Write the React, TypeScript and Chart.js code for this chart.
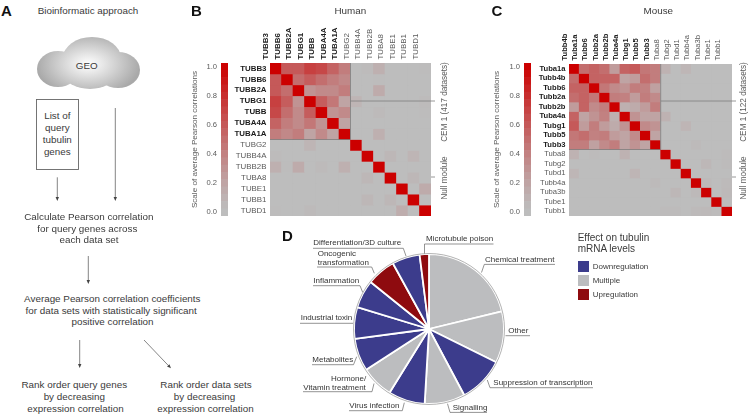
import React, { useEffect, useRef } from "react";
import { Chart, registerables } from "chart.js";

Chart.register(...registerables);

const FONT = '"Liberation Sans", Arial, sans-serif';
const INK = "#3a3a3a";

const humanCols = ["TUBB3", "TUBB6", "TUBB2A", "TUBG1", "TUBB", "TUBA4A", "TUBA1A", "TUBG2", "TUBB4A", "TUBB2B", "TUBA8", "TUBE1", "TUBB1", "TUBD1"];
const humanRows = humanCols;
const humanMatrix = [
  [1, 0.6, 0.6, 0.72, 0.68, 0.55, 0.42, 0, 0.03, 0.12, 0, 0, 0, 0.02],
  [0.6, 1, 0.5, 0.58, 0.5, 0.42, 0.36, 0, 0, 0.02, 0, 0, 0, 0],
  [0.6, 0.5, 1, 0.3, 0.35, 0.35, 0.42, 0, 0, 0.15, 0, 0, 0, 0],
  [0.72, 0.58, 0.3, 1, 0.58, 0.45, 0.2, 0.08, 0, 0, 0, 0, 0, 0.03],
  [0.68, 0.5, 0.35, 0.58, 1, 0.3, 0.35, 0, 0, 0.04, 0, 0, 0, 0.01],
  [0.55, 0.42, 0.35, 0.45, 0.3, 1, 0.2, 0, 0, 0, 0, 0, 0, 0],
  [0.42, 0.36, 0.42, 0.2, 0.35, 0.2, 1, 0, 0, 0.12, 0, 0, 0, 0],
  [0, 0, 0, 0.08, 0, 0, 0, 1, 0, 0, 0, 0, 0, 0],
  [0.03, 0, 0, 0, 0, 0, 0, 0, 1, 0, 0.06, 0, 0.08, 0],
  [0.12, 0.02, 0.15, 0, 0.04, 0, 0.12, 0, 0, 1, 0, 0, 0, 0],
  [0, 0, 0, 0, 0, 0, 0, 0, 0.06, 0, 1, 0, 0.06, 0],
  [0, 0, 0, 0, 0, 0, 0, 0, 0, 0, 0, 1, 0, 0.15],
  [0, 0, 0, 0, 0, 0, 0, 0, 0.06, 0, 0.06, 0, 1, 0],
  [0.02, 0, 0, 0.04, 0, 0, 0, 0, 0, 0, 0, 0.14, 0, 1],
];

const mouseCols = ["Tubb4b", "Tuba1a", "Tubb6", "Tubb2a", "Tubb2b", "Tuba4a", "Tubg1", "Tubb5", "Tubb3", "Tuba8", "Tubg2", "Tubd1", "Tubb4a", "Tuba3b", "Tube1", "Tubb1"];
const mouseRows = ["Tuba1a", "Tubb4b", "Tubb6", "Tubb2a", "Tubb2b", "Tuba4a", "Tubg1", "Tubb5", "Tubb3", "Tuba8", "Tubg2", "Tubd1", "Tubb4a", "Tuba3b", "Tube1", "Tubb1"];
const mouseMatrix = [
  [1, 0.5, 0.55, 0.5, 0.25, 0.55, 0.6, 0.45, 0.42, 0.1, 0, 0.07, 0, 0, 0, 0],
  [0.5, 1, 0.55, 0.55, 0.55, 0.2, 0.25, 0.5, 0.42, 0, 0, 0, 0, 0, 0, 0],
  [0.55, 0.55, 1, 0.45, 0.35, 0.3, 0.42, 0.4, 0.22, 0, 0, 0, 0, 0, 0, 0],
  [0.5, 0.55, 0.45, 1, 0.42, 0.4, 0.25, 0.42, 0.35, 0, 0, 0, 0, 0, 0, 0],
  [0.25, 0.55, 0.35, 0.42, 1, 0.12, 0.15, 0.25, 0.42, 0, 0, 0, 0, 0, 0, 0],
  [0.55, 0.2, 0.3, 0.4, 0.12, 1, 0.3, 0.2, 0.2, 0.1, 0, 0, 0, 0, 0, 0],
  [0.6, 0.25, 0.42, 0.25, 0.15, 0.3, 1, 0.35, 0.3, 0, 0, 0.08, 0, 0, 0, 0],
  [0.45, 0.5, 0.4, 0.42, 0.25, 0.2, 0.35, 1, 0.2, 0, 0, 0, 0, 0, 0, 0],
  [0.42, 0.42, 0.22, 0.35, 0.42, 0.2, 0.3, 0.2, 1, 0, 0, 0, 0.04, 0, 0, 0],
  [0.1, 0, 0.03, 0, 0, 0.1, 0, 0, 0, 1, 0, 0, 0, 0, 0, 0.03],
  [0, 0, 0, 0, 0, 0, 0, 0, 0, 0, 1, 0, 0, 0.06, 0, 0.03],
  [0.07, 0, 0, 0, 0, 0, 0.08, 0, 0, 0, 0, 1, 0, 0, 0, 0],
  [0, 0, 0, 0, 0, 0, 0, 0, 0.04, 0, 0, 0, 1, 0.05, 0, 0.04],
  [0, 0, 0, 0, 0, 0, 0, 0, 0, 0, 0.06, 0, 0.05, 1, 0, 0.05],
  [0, 0, 0, 0, 0, 0, 0, 0, 0, 0, 0, 0, 0, 0, 1, 0.03],
  [0, 0, 0, 0, 0, 0, 0, 0, 0, 0.03, 0.03, 0, 0.04, 0.05, 0.03, 1],
];

const scaleSteps = [0, 0.05, 0.1, 0.15, 0.2, 0.25, 0.3, 0.35, 0.4, 0.45, 0.5, 0.55, 0.6, 0.65, 0.7, 0.75, 0.8, 0.85, 0.9, 0.95, 1];
const scaleTicks = [0, 0.2, 0.4, 0.6, 0.8, 1];

const pieNames = ["Chemical treatment", "Other", "Suppression of transcription", "Signalling", "Virus infection", "Hormone/Vitamin treatment", "Metabolites", "Industrial toxin", "Inflammation", "Oncogenic transformation", "Differentiation/3D culture", "Microtubule poison"];
const pieValues = [21.2, 11.1, 9.9, 8.7, 7.9, 7, 7.05, 6.8, 6.1, 6.2, 6, 2];
const pieEffects = ["Multiple", "Multiple", "Downregulation", "Multiple", "Downregulation", "Multiple", "Downregulation", "Downregulation", "Downregulation", "Upregulation", "Downregulation", "Upregulation"];
const effectNames = ["Downregulation", "Multiple", "Upregulation"];
const effectColors: Record<string, string> = { Downregulation: "#3c3c8c", Multiple: "#bcbdbf", Upregulation: "#8e0b0f" };

// page-pixel layout of the pie's captions: text lines (x = left edge, y = middle), then the leader polyline
const pieCaptions = [
  { t: [["Chemical treatment", 485, 260]], l: [[555, 264.4], [484.3, 264.4], [481.5, 272.5]] },
  { t: [["Other", 508.3, 331]], l: [[530, 335.7], [505.5, 335.7]] },
  { t: [["Suppression of transcription", 493.3, 383]], l: [[593, 387.7], [490, 387.7], [487.3, 380]] },
  { t: [["Signalling", 452.7, 407.7]], l: [[487, 412.4], [450, 412.4], [447.5, 403.7]] },
  { t: [["Virus infection", 349.3, 405.7]], l: [[349, 410.7], [402.3, 410.7], [404.3, 402.7]] },
  { t: [["Hormone/", 331, 378.3], ["Vitamin treatment", 303.3, 387.3]], l: [[303, 391.7], [372, 391.7], [374, 383.5]] },
  { t: [["Metabolites", 312.3, 359.7]], l: [[312, 364.7], [353.5, 364.7], [356.7, 356.7]] },
  { t: [["Industrial toxin", 300.7, 318]], l: [[300, 323.3], [353, 323.3]] },
  { t: [["Inflammation", 313.3, 280.3]], l: [[313, 285.7], [360, 285.7], [362.7, 292.3]] },
  { t: [["Oncogenic", 317.7, 253.3], ["transformation", 317.7, 262.3]], l: [[317, 267], [371.7, 267], [374.3, 273.3]] },
  { t: [["Differentiation/3D culture", 313.3, 243]], l: [[313, 248.3], [403.3, 248.3], [406, 256]] },
  { t: [["Microtubule poison", 426, 239]], l: [[493.5, 244], [424.5, 244], [424.5, 253.5]] },
];

function cellColor(v: number) {
  const a = [189, 189, 189];
  const b = [204, 0, 0];
  const t = Math.pow(v, 1.25);
  const c = a.map((x, i) => Math.round(x + (b[i] - x) * t));
  return `rgb(${c[0]},${c[1]},${c[2]})`;
}

const noScalePadding = (s: any) => {
  s.paddingTop = 0; s.paddingBottom = 0; s.paddingLeft = 0; s.paddingRight = 0;
};

type HeatProps = {
  cols: string[]; rows: string[]; matrix: number[][]; boldCount: number;
  x0: number; y0: number; x1: number; y1: number;
  fs: number; cemY: number; nullY: number; moduleX: number; cemText: string; cemMidY: number; nullMidY: number;
};

function Heatmap(p: HeatProps) {
  const ref = useRef<HTMLCanvasElement>(null);
  const leftGutter = 62, topGutter = 50, rightGutter = 20;
  useEffect(() => {
    const n = p.rows.length;
    const rowIdx = (c: any) => Math.floor(c.tick ? c.tick.value : 0);
    const colIdx = (c: any) => (typeof c.index === "number" ? c.index : 0);
    const chart = new Chart(ref.current!, {
      type: "bar",
      data: {
        labels: p.cols,
        datasets: p.matrix.map((row, i) => ({
          label: p.rows[i],
          data: row.map(() => 1),
          backgroundColor: row.map(cellColor),
          borderWidth: 0,
          barPercentage: 1,
          categoryPercentage: 1,
        })),
      },
      options: {
        responsive: false,
        animation: false,
        layout: { padding: { left: 0, top: 0, right: rightGutter, bottom: 0 } },
        plugins: { legend: { display: false }, tooltip: { enabled: false } },
        scales: {
          x: {
            position: "top",
            stacked: true,
            grid: { display: false, drawTicks: false },
            border: { display: false },
            afterFit: (s: any) => { s.height = topGutter; noScalePadding(s); },
            ticks: {
              autoSkip: false, minRotation: 90, maxRotation: 90, padding: 3.5,
              font: (c: any) => ({ family: FONT, size: p.fs, weight: colIdx(c) < p.boldCount ? "bold" : "normal" }),
              color: (c: any) => (colIdx(c) < p.boldCount ? "#1c1c1c" : "#5a5a5a"),
            },
          },
          y: {
            stacked: true,
            reverse: true,
            min: 0,
            max: n,
            grid: { display: false, drawTicks: false },
            border: { display: false },
            afterFit: (s: any) => { s.width = leftGutter; noScalePadding(s); },
            afterBuildTicks: (s: any) => { s.ticks = p.rows.map((_, i) => ({ value: i + 0.5 })); },
            ticks: {
              autoSkip: false, padding: 3.5,
              callback: (v: any) => p.rows[Math.floor(Number(v))],
              font: (c: any) => ({ family: FONT, size: p.fs, weight: rowIdx(c) < p.boldCount ? "bold" : "normal" }),
              color: (c: any) => (rowIdx(c) < p.boldCount ? "#1c1c1c" : "#5a5a5a"),
            },
          },
        },
      },
      plugins: [
        {
          id: "cellBackdrop",
          beforeDatasetsDraw(c: any) {
            const a = c.chartArea;
            c.ctx.fillStyle = cellColor(0);
            c.ctx.fillRect(a.left, a.top, a.width, a.height);
          },
        },
        {
          id: "modules",
          afterDraw(c: any) {
            const { ctx, scales, chartArea: a } = c;
            const bx = scales.x.getPixelForValue(p.boldCount - 0.5);
            const by = scales.y.getPixelForValue(p.boldCount);
            ctx.save();
            ctx.strokeStyle = "#7d7d7d";
            ctx.lineWidth = 0.8;
            ctx.beginPath();
            ctx.moveTo(a.left, by); ctx.lineTo(bx, by);
            ctx.moveTo(bx, a.top); ctx.lineTo(bx, by);
            ctx.moveTo(bx, p.cemY - p.y0 + topGutter); ctx.lineTo(a.right + 4, p.cemY - p.y0 + topGutter);
            ctx.moveTo(a.right, p.nullY - p.y0 + topGutter); ctx.lineTo(a.right + 4, p.nullY - p.y0 + topGutter);
            ctx.stroke();
            ctx.restore();
            ctx.save();
            ctx.fillStyle = "#5a5a5a";
            ctx.font = `8.2px ${FONT}`;
            ctx.textAlign = "center";
            ctx.textBaseline = "middle";
            const mx = p.moduleX - (p.x0 - leftGutter);
            [[p.cemText, p.cemMidY], ["Null module", p.nullMidY]].forEach(([t, y]) => {
              ctx.save();
              ctx.translate(mx, (y as number) - p.y0 + topGutter);
              ctx.rotate(-Math.PI / 2);
              ctx.fillText(t as string, 0, 0);
              ctx.restore();
            });
            ctx.restore();
          },
        },
      ],
    } as any);
    return () => chart.destroy();
  }, []);
  const w = p.x1 - p.x0 + leftGutter + rightGutter;
  const h = p.y1 - p.y0 + topGutter;
  return (
    <canvas
      ref={ref}
      width={w}
      height={h}
      style={{ position: "absolute", left: p.x0 - leftGutter, top: p.y0 - topGutter, width: w, height: h }}
    />
  );
}

function ColorBar({ left, top, width, height }: { left: number; top: number; width: number; height: number }) {
  const ref = useRef<HTMLCanvasElement>(null);
  const gutter = width - 7;
  useEffect(() => {
    const chart = new Chart(ref.current!, {
      type: "bar",
      data: {
        labels: ["scale"],
        datasets: scaleSteps.map((v) => ({
          label: String(v),
          data: [[v - 0.025, v + 0.025]],
          backgroundColor: cellColor(v),
          borderWidth: 0,
          grouped: false,
          barPercentage: 1,
          categoryPercentage: 1,
        })),
      },
      options: {
        responsive: false,
        animation: false,
        plugins: { legend: { display: false }, tooltip: { enabled: false } },
        scales: {
          x: { display: false },
          y: {
            min: -0.025,
            max: 1.025,
            grid: { display: false, drawTicks: false },
            border: { display: false },
            afterFit: (s: any) => { s.width = gutter; noScalePadding(s); },
            afterBuildTicks: (s: any) => { s.ticks = scaleTicks.map((value) => ({ value })); },
            title: {
              display: true,
              text: "Scale of average Pearson correlations",
              color: "#5a5a5a",
              font: { family: FONT, size: 8.1 },
              padding: 0,
            },
            ticks: {
              padding: 4,
              color: "#5a5a5a",
              font: { family: FONT, size: 7.6 },
              callback: (v: any) => Number(v).toFixed(1),
            },
          },
        },
      },
    } as any);
    return () => chart.destroy();
  }, []);
  return <canvas ref={ref} width={width} height={height} style={{ position: "absolute", left, top, width, height }} />;
}

function Pie() {
  const ref = useRef<HTMLCanvasElement>(null);
  const left = 260, top = 232, W = 338, H = 194;
  useEffect(() => {
    const chart = new Chart(ref.current!, {
      type: "pie",
      data: {
        labels: pieNames,
        datasets: [{
          data: pieValues,
          backgroundColor: pieEffects.map((e) => effectColors[e]),
          borderColor: "#ffffff",
          borderWidth: 1.8,
        }],
      },
      options: {
        responsive: false,
        animation: false,
        radius: 75,
        plugins: { legend: { display: false }, tooltip: { enabled: false } },
      },
      plugins: [{
        id: "captions",
        afterDraw(c: any) {
          const ctx = c.ctx;
          const arc = c.getDatasetMeta(0).data[0];
          ctx.save();
          ctx.strokeStyle = "#a0a0a0";
          ctx.lineWidth = 0.8;
          ctx.beginPath();
          ctx.arc(arc.x, arc.y, 75.5, 0, Math.PI * 2);
          ctx.stroke();
          ctx.font = `8px ${FONT}`;
          ctx.textBaseline = "middle";
          ctx.fillStyle = "#333";
          ctx.strokeStyle = "#666";
          ctx.lineWidth = 0.7;
          pieCaptions.forEach((cap) => {
            cap.t.forEach(([s, x, y]) => ctx.fillText(s as string, (x as number) - left, (y as number) - top));
            ctx.beginPath();
            cap.l.forEach(([x, y], i) => {
              if (i === 0) ctx.moveTo((x as number) - left, (y as number) - top); else ctx.lineTo((x as number) - left, (y as number) - top);
            });
            ctx.stroke();
          });
          ctx.restore();
        },
      }],
    } as any);
    return () => chart.destroy();
  }, []);
  return <canvas ref={ref} width={W} height={H} style={{ position: "absolute", left, top, width: W, height: H }} />;
}

function T({ x, y, s, size = 9.85, align = "center", color = INK, weight = 400 }: any) {
  const tx = align === "center" ? "-50%" : "0";
  return (
    <div style={{ position: "absolute", left: x, top: y, transform: `translate(${tx},-50%)`, fontFamily: FONT, fontSize: size, fontWeight: weight, color, whiteSpace: "nowrap", lineHeight: 1 }}>
      {s}
    </div>
  );
}

function Arrow({ x1, y1, x2, y2 }: any) {
  const a = Math.atan2(y2 - y1, x2 - x1);
  const L = 4, W = 1.7;
  const bx = x2 - L * Math.cos(a), by = y2 - L * Math.sin(a);
  const nx = -Math.sin(a) * W, ny = Math.cos(a) * W;
  return (
    <g>
      <line x1={x1} y1={y1} x2={bx} y2={by} stroke="#666" strokeWidth={0.8} />
      <polygon points={`${x2},${y2} ${bx + nx},${by + ny} ${bx - nx},${by - ny}`} fill="#444" />
    </g>
  );
}

export default function App() {
  return (
    <div style={{ position: "absolute", left: 0, top: 0, width: 749, height: 415, overflow: "hidden", background: "#fff", filter: "blur(0.3px)" }}>
      <svg width={749} height={415} style={{ position: "absolute", left: 0, top: 0 }}>
        <defs>
          <radialGradient id="cloud" gradientUnits="userSpaceOnUse" cx={88} cy={64} r={52} gradientTransform="translate(88 64) scale(1 0.62) translate(-88 -64)">
            <stop offset="0" stopColor="#ffffff" />
            <stop offset="0.3" stopColor="#e6e6e6" />
            <stop offset="1" stopColor="#a9a9a9" />
          </radialGradient>
        </defs>
        <g fill="url(#cloud)">
          <ellipse cx={58} cy={69} rx={21} ry={18} />
          <ellipse cx={118} cy={70} rx={22} ry={18} />
          <ellipse cx={92} cy={58} rx={29} ry={21} />
          <ellipse cx={80} cy={60} rx={18} ry={17} />
          <ellipse cx={90} cy={74} rx={26} ry={15} />
        </g>
        <rect x={36.5} y={99.5} width={42} height={70} fill="none" stroke="#666" strokeWidth={0.9} />
        <Arrow x1={57.3} y1={177.3} x2={57.3} y2={201} />
        <Arrow x1={115.3} y1={108} x2={115.3} y2={201} />
        <Arrow x1={88.3} y1={256} x2={88.3} y2={284} />
        <Arrow x1={79.7} y1={340} x2={79.7} y2={368} />
        <Arrow x1={144} y1={340} x2={171} y2={368.3} />
      </svg>

      <Heatmap cols={humanCols} rows={humanRows} matrix={humanMatrix} boldCount={7} x0={270} y0={63} x1={431} y1={216} fs={7.9} cemY={101} nullY={177} moduleX={445} cemText="CEM 1 (417 datasets)" cemMidY={102} nullMidY={178} />
      <Heatmap cols={mouseCols} rows={mouseRows} matrix={mouseMatrix} boldCount={9} x0={569} y0={64} x1={732} y1={216} fs={7.6} cemY={101} nullY={177} moduleX={744} cemText="CEM 1 (122 datasets)" cemMidY={102} nullMidY={178} />
      <ColorBar left={190} top={63} width={38} height={153} />
      <ColorBar left={492} top={63} width={39} height={153} />
      <Pie />

      <T x={1} y={9.5} s="A" size={15} weight={700} align="left" color="#111" />
      <T x={191} y={9.5} s="B" size={15} weight={700} align="left" color="#111" />
      <T x={491.5} y={9.5} s="C" size={15} weight={700} align="left" color="#111" />
      <T x={282} y={235} s="D" size={15} weight={700} align="left" color="#111" />

      <T x={88} y={10.7} s="Bioinformatic approach" />
      <T x={350.3} y={10.7} s="Human" />
      <T x={658.3} y={10.7} s="Mouse" />
      <T x={86.7} y={66} s="GEO" />
      <T x={57.3} y={116} s="List of" />
      <T x={57.3} y={128.3} s="query" />
      <T x={57.3} y={140} s="tubulin" />
      <T x={57.3} y={152} s="genes" />
      <T x={88.8} y={216.7} s="Calculate Pearson correlation" />
      <T x={87.3} y={228.7} s="for query genes across" />
      <T x={89} y={240.3} s="each data set" />
      <T x={112.3} y={299} s="Average Pearson correlation coefficients" />
      <T x={111.2} y={310.7} s="for data sets with statistically significant" />
      <T x={112.5} y={322.3} s="positive correlation" />
      <T x={74.3} y={385} s="Rank order query genes" />
      <T x={74.3} y={397} s="by decreasing" />
      <T x={75.5} y={408.7} s="expression correlation" />
      <T x={206} y={385} s="Rank order data sets" />
      <T x={204.5} y={397} s="by decreasing" />
      <T x={205.5} y={408.7} s="expression correlation" />

      <T x={577.7} y={237.7} s="Effect on tubulin" size={10} align="left" />
      <T x={577.7} y={249.3} s="mRNA levels" size={10} align="left" />
      {effectNames.map((e, i) => (
        <React.Fragment key={e}>
          <div style={{ position: "absolute", left: 577.7, top: 261.3 + i * 14, width: 11, height: 11, background: effectColors[e] }} />
          <T x={592.7} y={266.7 + i * 13.9} s={e} size={8} align="left" />
        </React.Fragment>
      ))}
    </div>
  );
}
